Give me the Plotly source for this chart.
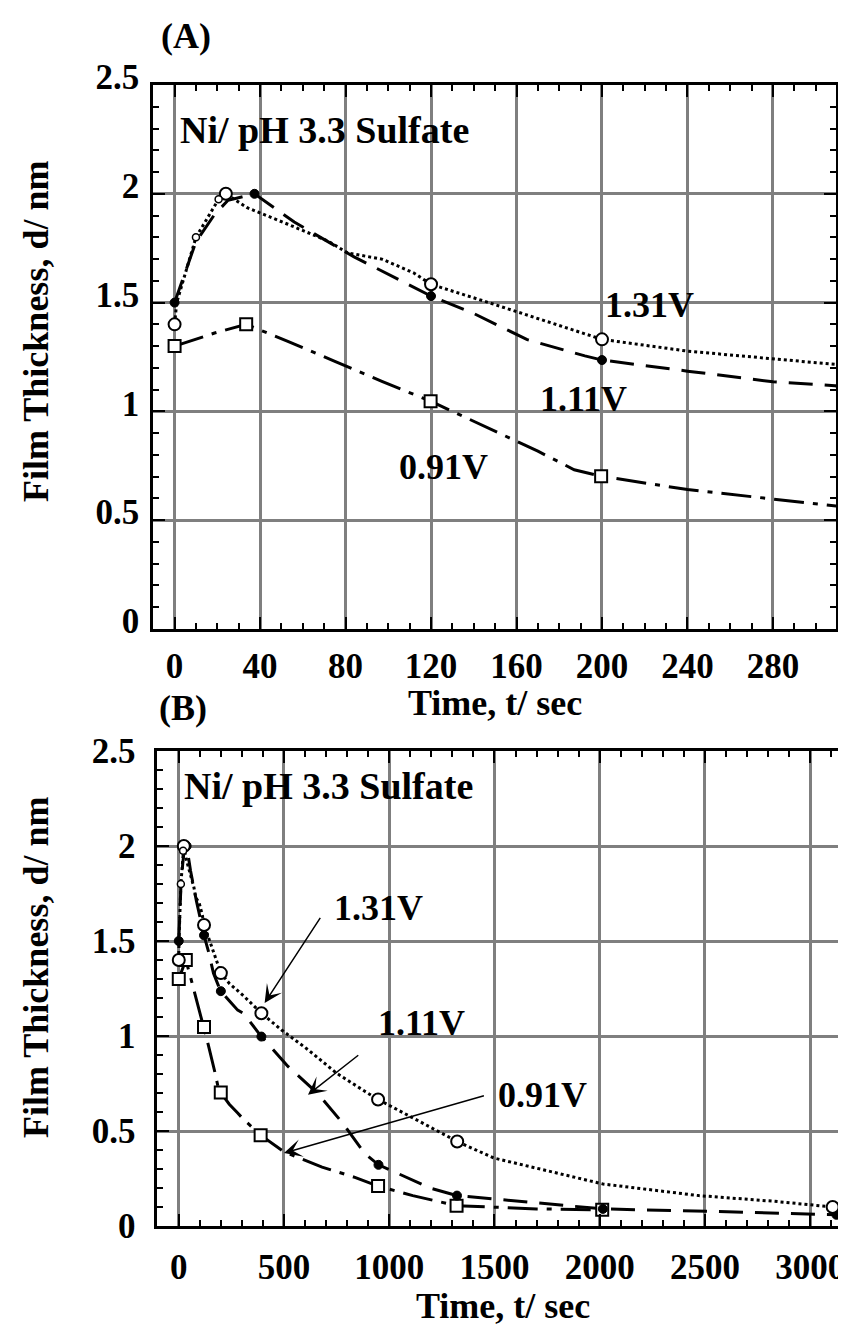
import plotly.graph_objects as go

# ---------------- data ----------------
# 1.31 V  (open circles, dotted line)
t131_line = [0, 1, 10, 20.6, 24, 34, 53, 72, 81, 97, 112, 120, 147, 200, 240, 280, 309,
             392.6, 487, 614, 749, 884, 947, 1323, 1496, 2016, 2470, 2830, 3107]
d131_line = [1.40, 1.50, 1.80, 1.975, 2.0, 1.936, 1.86, 1.782, 1.728, 1.70, 1.636, 1.584, 1.50, 1.331, 1.277, 1.239, 1.21,
             1.12, 1.033, 0.928, 0.805, 0.709, 0.666, 0.445, 0.358, 0.221, 0.16, 0.13, 0.10]
t131_big = [0, 24, 120, 200, 392.6, 947, 1323, 3107]
d131_big = [1.40, 2.0, 1.584, 1.331, 1.12, 0.666, 0.445, 0.10]
t131_small = [10, 20.6]
d131_small = [1.80, 1.975]

# 1.11 V  (filled circles, dashed line)
t111_line = [0, 10, 18.7, 25, 37.4, 56, 84, 108, 120, 140, 165, 192, 200, 240, 280, 309,
             392.6, 519, 662, 780, 885, 949, 1044, 1202, 1322, 1700, 2015, 2605, 3125]
d111_line = [1.50, 1.78, 1.905, 1.97, 2.0, 1.87, 1.71, 1.59, 1.53, 1.45, 1.33, 1.255, 1.236, 1.185, 1.136, 1.118,
             0.997, 0.84, 0.695, 0.54, 0.38, 0.322, 0.275, 0.197, 0.16, 0.12, 0.09, 0.075, 0.059]
t111_pts = [0, 37.4, 120, 200, 392.6, 949, 1322, 2015, 3125]
d111_pts = [1.50, 2.0, 1.53, 1.236, 0.997, 0.322, 0.16, 0.09, 0.059]

# 0.91 V  (open squares, dash-dot line)
t091_line = [0, 18.7, 33.5, 53, 75, 97, 119.8, 140, 170, 187, 199.6, 240, 280, 303,
             389, 500, 681, 840, 947, 1112, 1320, 1700, 2012, 2060]
d091_line = [1.30, 1.36, 1.40, 1.322, 1.23, 1.138, 1.047, 0.954, 0.817, 0.732, 0.702, 0.641, 0.595, 0.567,
             0.478, 0.39, 0.31, 0.255, 0.21, 0.16, 0.107, 0.09, 0.085, 0.085]
t091_pts = [0, 33.5, 119.8, 199.6, 389, 947, 1320, 2012]
d091_pts = [1.30, 1.40, 1.047, 0.702, 0.478, 0.21, 0.107, 0.085]

series_labels = ["1.31V", "1.11V", "0.91V"]
panel_labels = ["(A)", "(B)"]
inset_text = "Ni/ pH 3.3 Sulfate"
x_title = "Time, t/ sec"
y_title = "Film Thickness, d/ nm"

# label positions (data coords)
lab_top = [(222, 1.487), (191.5, 1.055), (126, 0.745)]
lab_bot = [(951, 1.674), (1151, 1.068), (1726, 0.689)]
# arrows bottom panel: (tip_t, tip_d, tail_t, tail_d)
arrows_bot = [(408, 1.174, 677, 1.63), (614, 0.691, 860, 0.905), (500, 0.384, 1457, 0.688)]

# ---------------- figure ----------------
W, H = 846, 1327
FONT = "Liberation Serif"
BLACK = "#000000"
GRID = "#7f7f7f"

fig = go.Figure()

DOT = "3px,3px"
DASH = "24px,12px"
DASHDOT = "30px,9px,5px,9px"


def add_panel(xa, ya):
    fig.add_trace(go.Scatter(x=t091_line, y=d091_line, mode="lines", xaxis=xa, yaxis=ya,
                             line=dict(color=BLACK, width=3, dash=DASHDOT), hoverinfo="skip"))
    fig.add_trace(go.Scatter(x=t111_line, y=d111_line, mode="lines", xaxis=xa, yaxis=ya,
                             line=dict(color=BLACK, width=3, dash=DASH), hoverinfo="skip"))
    fig.add_trace(go.Scatter(x=t131_line, y=d131_line, mode="lines", xaxis=xa, yaxis=ya,
                             line=dict(color=BLACK, width=3, dash=DOT), hoverinfo="skip"))
    fig.add_trace(go.Scatter(x=t091_pts, y=d091_pts, mode="markers", xaxis=xa, yaxis=ya,
                             marker=dict(symbol="square", size=12, color="white",
                                         line=dict(color=BLACK, width=2))))
    fig.add_trace(go.Scatter(x=t111_pts, y=d111_pts, mode="markers", xaxis=xa, yaxis=ya,
                             marker=dict(symbol="circle", size=9, color=BLACK,
                                         line=dict(color=BLACK, width=1))))
    fig.add_trace(go.Scatter(x=t131_big, y=d131_big, mode="markers", xaxis=xa, yaxis=ya,
                             marker=dict(symbol="circle", size=12, color="white",
                                         line=dict(color=BLACK, width=2))))
    fig.add_trace(go.Scatter(x=t131_small, y=d131_small, mode="markers", xaxis=xa, yaxis=ya,
                             marker=dict(symbol="circle", size=7, color="white",
                                         line=dict(color=BLACK, width=1.5))))


add_panel("x", "y")
add_panel("x2", "y2")

tickfont = dict(family=FONT, size=35, color=BLACK, weight="bold")

# pixel geometry
top_x0, top_x1, top_y0, top_y1 = 145, 828, 77, 621
bot_x0, bot_x1, bot_y0, bot_y1 = 149.3, 841.7, 743, 1218


def axcommon():
    return dict(showline=True, linecolor=BLACK, linewidth=2.5, mirror="allticks",
                ticks="inside", ticklen=12, tickwidth=2, tickcolor=BLACK,
                showgrid=True, gridcolor=GRID, gridwidth=2.5, zeroline=False,
                tickfont=tickfont, automargin=False)


fig.update_layout(
    width=W, height=H, autosize=False,
    margin=dict(l=0, r=0, t=0, b=0),
    paper_bgcolor="white", plot_bgcolor="white",
    showlegend=False,
    xaxis=dict(**axcommon(), domain=[top_x0 / W, top_x1 / W], anchor="y",
               range=[-10.1, 309.5], tickvals=[0, 40, 80, 120, 160, 200, 240, 280],
               minor=dict(dtick=10, tick0=0, ticks="inside", ticklen=6, tickwidth=2,
                          tickcolor=BLACK, showgrid=False),
               ticklabelstandoff=4),
    yaxis=dict(**axcommon(), domain=[1 - top_y1 / H, 1 - top_y0 / H], anchor="x",
               range=[0, 2.5], tickvals=[0, 0.5, 1, 1.5, 2, 2.5],
               ticktext=["0", "0.5", "1", "1.5", "2", "2.5"],
               minor=dict(dtick=0.1, tick0=0, ticks="inside", ticklen=6, tickwidth=2,
                          tickcolor=BLACK, showgrid=False),
               ticklabelstandoff=4, ticklabelshift=-8),
    xaxis2=dict(**axcommon(), domain=[bot_x0 / W, bot_x1 / W], anchor="y2",
                range=[-102, 3188], tickvals=[0, 500, 1000, 1500, 2000, 2500, 3000],
                minor=dict(dtick=100, tick0=0, ticks="inside", ticklen=6, tickwidth=2,
                           tickcolor=BLACK, showgrid=False),
                ticklabelstandoff=8),
    yaxis2=dict(**axcommon(), domain=[1 - bot_y1 / H, 1 - bot_y0 / H], anchor="x2",
                range=[0, 2.5], tickvals=[0, 0.5, 1, 1.5, 2, 2.5],
                ticktext=["0", "0.5", "1", "1.5", "2", "2.5"],
                minor=dict(dtick=0.1, tick0=0, ticks="inside", ticklen=6, tickwidth=2,
                           tickcolor=BLACK, showgrid=False),
                ticklabelstandoff=12),
)

ann = []
tf = dict(family=FONT, size=36, color=BLACK, weight="bold")


def paper(px, py):
    return px / W, 1 - py / H


# panel labels
for (lbl, (px, py)) in zip(panel_labels, [(178, 28), (175, 700)]):
    x, y = paper(px, py)
    ann.append(dict(text=lbl, x=x, y=y, xref="paper", yref="paper", showarrow=False,
                    xanchor="center", yanchor="middle", font=tf))
# axis titles
for (px, py) in [(487, 695), (495, 1298)]:
    x, y = paper(px, py)
    ann.append(dict(text=x_title, x=x, y=y, xref="paper", yref="paper", showarrow=False,
                    xanchor="center", yanchor="middle", font=tf))
for (px, py) in [(28, 324), (28, 960)]:
    x, y = paper(px, py)
    ann.append(dict(text=y_title, x=x, y=y, xref="paper", yref="paper", showarrow=False,
                    textangle=-90, xanchor="center", yanchor="middle", font=tf))
# inset text
ann.append(dict(text=inset_text, x=1.6, y=2.295, xref="x", yref="y", showarrow=False,
                xanchor="left", yanchor="middle", font=dict(family=FONT, size=38, color=BLACK, weight="bold")))
ann.append(dict(text=inset_text, x=16, y=2.316, xref="x2", yref="y2", showarrow=False,
                xanchor="left", yanchor="middle", font=dict(family=FONT, size=38, color=BLACK, weight="bold")))
# series labels
for lbl, (x, y) in zip(series_labels, lab_top):
    ann.append(dict(text=lbl, x=x, y=y, xref="x", yref="y", showarrow=False,
                    xanchor="center", yanchor="middle", font=tf))
for lbl, (x, y) in zip(series_labels, lab_bot):
    ann.append(dict(text=lbl, x=x, y=y, xref="x2", yref="y2", showarrow=False,
                    xanchor="center", yanchor="middle", font=tf))
# arrows
for (tx, ty, ax_, ay_) in arrows_bot:
    ann.append(dict(text="", x=tx, y=ty, xref="x2", yref="y2", ax=ax_, ay=ay_,
                    axref="x2", ayref="y2", showarrow=True, arrowhead=3, arrowsize=2,
                    arrowwidth=1.5, arrowcolor=BLACK, standoff=0))

fig.update_layout(annotations=ann)

fig.write_html("out.html")
